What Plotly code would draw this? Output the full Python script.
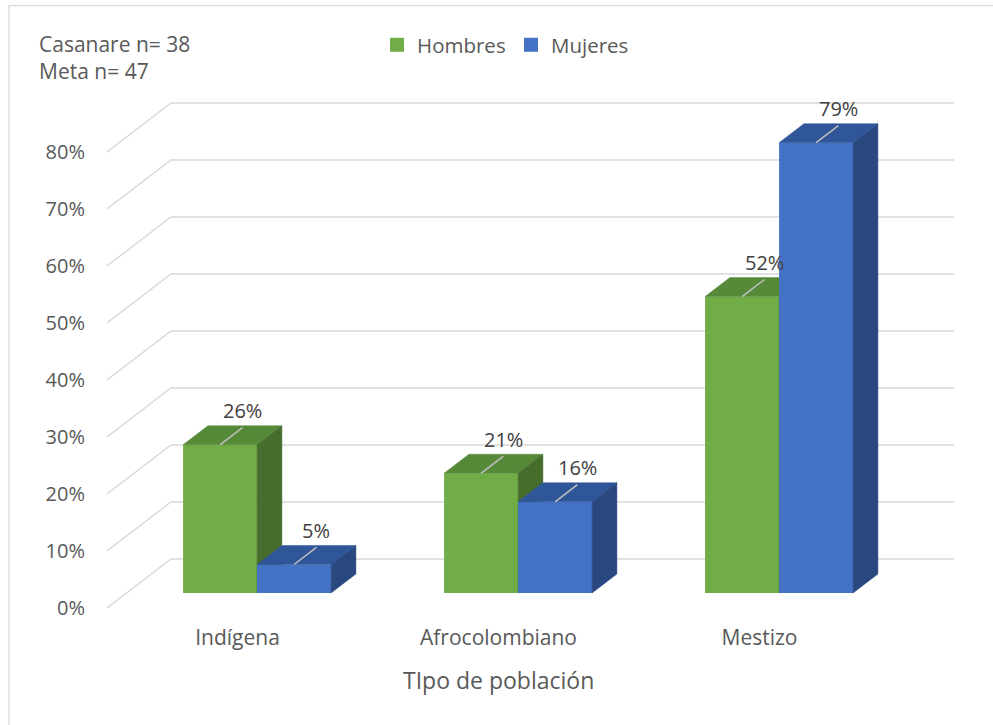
import plotly.graph_objects as go

# ---- data -------------------------------------------------------------
categorias = ["Indígena", "Afrocolombiano", "Mestizo"]
hombres = [26, 21, 52]
mujeres = [5, 16, 79]
ticks_y = [0, 10, 20, 30, 40, 50, 60, 70, 80]
ticks_y_text = [f"{v}%" for v in ticks_y]
nota_muestra = ["Casanare n= 38", "Meta n= 47"]
titulo_x = "TIpo de población"

series = [
    dict(name="Hombres", values=hombres, front="#70AD47", top="#568A38", side="#466D2C"),
    dict(name="Mujeres", values=mujeres, front="#4472C4", top="#30569A", side="#2A4880"),
]

# ---- oblique 3D projection (data units: x = category index, y = percent) ----
DEPTH_X = 0.2452   # x shift of the back wall relative to the front plane
DEPTH_Y = 8.6      # y shift of the back wall relative to the front plane
BAR_W = 0.2835     # width of one bar
BAR_T0 = 0.306     # depth of the bars' front faces (fraction of wall depth)
BAR_T = 0.388      # bar thickness (fraction of wall depth)
X_LEFT, X_RIGHT = -0.5, 2.5

TXT = "#595959"
LBL = "#404040"
GRID = "#D9D9D9"
FONT = "Open Sans"
FS = 20

bdx, bdy = BAR_T * DEPTH_X, BAR_T * DEPTH_Y
base = BAR_T0 * DEPTH_Y

fig = go.Figure()

leader_x, leader_y, labels = [], [], []
for i, s in enumerate(series):
    ax = "x" if i == 0 else "x2"
    ay = "y" if i == 0 else "y2"
    xc = [c + (i - 0.5) * BAR_W + BAR_T0 * DEPTH_X for c in range(len(categorias))]
    # front faces
    fig.add_trace(go.Bar(
        x=xc, y=s["values"], base=base, width=BAR_W, xaxis=ax, yaxis=ay,
        marker=dict(color=s["front"], line=dict(width=0)), showlegend=False,
        hoverinfo="skip"))
    top_x, top_y, side_x, side_y = [], [], [], []
    for x, v in zip(xc, s["values"]):
        xl, xr = x - BAR_W / 2, x + BAR_W / 2
        vt = base + v
        top_x += [xl, xr, xr + bdx, xl + bdx, xl, None]
        top_y += [vt, vt, vt + bdy, vt + bdy, vt, None]
        side_x += [xr, xr, xr + bdx, xr + bdx, xr, None]
        side_y += [base, vt, vt + bdy, base + bdy, base, None]
        # leader line across the top face, label above its far end
        ex, ey = x + 0.9 * bdx, vt + 0.9 * bdy
        leader_x += [x, ex, None]
        leader_y += [vt, ey, None]
        labels.append((ex, ey, f"{v}%"))
    for px, py, col in ((top_x, top_y, s["top"]), (side_x, side_y, s["side"])):
        fig.add_trace(go.Scatter(
            x=px, y=py, mode="lines", fill="toself", fillcolor=col,
            line=dict(color=col, width=0.5), xaxis=ax, yaxis=ay,
            showlegend=False, hoverinfo="skip"))

fig.add_trace(go.Scatter(
    x=leader_x, y=leader_y, mode="lines", line=dict(color="#BFBFBF", width=1.5),
    xaxis="x2", yaxis="y2", showlegend=False, hoverinfo="skip"))

# legend entries
for s in series:
    fig.add_trace(go.Scatter(
        x=[None], y=[None], mode="markers", name=s["name"], xaxis="x2", yaxis="y2",
        marker=dict(symbol="square", size=14, color=s["front"])))

# back wall and left wall gridlines
shapes = []
for v in ticks_y:
    shapes.append(dict(
        type="path", xref="x", yref="y", layer="below",
        path=f"M{X_LEFT},{v} L{X_LEFT + DEPTH_X},{v + DEPTH_Y} L{X_RIGHT + DEPTH_X},{v + DEPTH_Y}",
        line=dict(color=GRID, width=1.4)))
# chart area border
shapes.append(dict(type="rect", xref="paper", yref="paper",
                   x0=-0.1157, x1=1.06, y0=-0.25, y1=1.181,
                   line=dict(color=GRID, width=1.3), layer="below"))

annotations = [
    dict(x=ex, y=ey, xref="x2", yref="y2", text=t, showarrow=False,
         yshift=17, font=dict(color=LBL, size=FS, family=FONT))
    for ex, ey, t in labels
]
annotations.append(dict(x=1, y=0, xref="x", yref="paper", text=titulo_x,
                        showarrow=False, yshift=-72, yanchor="middle",
                        font=dict(color=TXT, size=23, family=FONT)))
for t, yp in zip(nota_muestra, [1.1059, 1.0529]):
    annotations.append(dict(x=-0.0826, y=yp, xref="paper", yref="paper", text=t,
                            showarrow=False, xanchor="left", yanchor="middle",
                            font=dict(color=TXT, size=21, family=FONT)))

yr = [0, 89.474]
xr = [X_LEFT, X_RIGHT + DEPTH_X]
fig.update_layout(
    width=993, height=725,
    margin=dict(l=107, r=39, t=98, b=117),
    paper_bgcolor="white", plot_bgcolor="white",
    barmode="overlay",
    font=dict(family=FONT, size=FS, color=TXT),
    xaxis=dict(range=xr, tickvals=list(range(len(categorias))), ticktext=categorias,
               showgrid=False, zeroline=False, showline=False, ticks="",
               ticklabelstandoff=15, tickfont=dict(color=TXT, size=21, family=FONT),
               fixedrange=True),
    yaxis=dict(range=yr, tickvals=ticks_y, ticktext=ticks_y_text, showgrid=False,
               zeroline=False, showline=False, ticks="", ticklabelstandoff=21,
               tickfont=dict(color=TXT, size=FS, family=FONT), fixedrange=True),
    xaxis2=dict(range=xr, overlaying="x", visible=False, fixedrange=True),
    yaxis2=dict(range=yr, overlaying="y", visible=False, fixedrange=True),
    legend=dict(orientation="h", x=0.3188, xanchor="left", y=1.104, yanchor="middle",
                entrywidth=89, entrywidthmode="pixels",
                font=dict(color=TXT, size=20.5, family=FONT), itemclick=False,
                bgcolor="rgba(0,0,0,0)"),
    shapes=shapes,
    annotations=annotations,
)

fig.write_html("out.html")
